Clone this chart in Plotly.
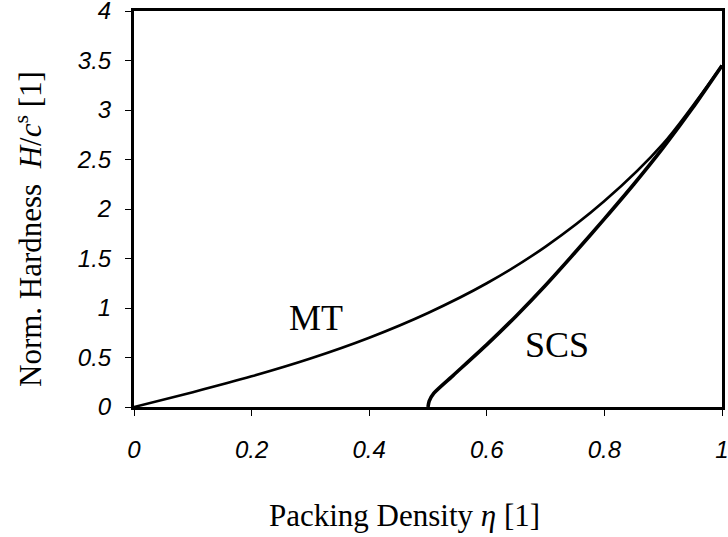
import plotly.graph_objects as go

# Normalised hardness H/c^s versus packing density eta for two models
mt_eta = [0.0, 0.1, 0.2, 0.3, 0.4, 0.5, 0.6, 0.7, 0.8, 0.9, 1.0]
mt_h = [0.0, 0.15, 0.31, 0.49, 0.70, 0.95, 1.25, 1.62, 2.08, 2.66, 3.45]

scs_eta = [0.5, 0.502, 0.51, 0.543, 0.6, 0.65, 0.7, 0.75, 0.8, 0.85, 0.9, 0.95, 1.0]
scs_h = [0.0, 0.06, 0.14, 0.32, 0.63, 0.92, 1.23, 1.56, 1.90, 2.25, 2.62, 3.02, 3.45]

x_ticks = [0, 0.2, 0.4, 0.6, 0.8, 1]
x_tick_text = ["0", "0.2", "0.4", "0.6", "0.8", "1"]
y_ticks = [0, 0.5, 1, 1.5, 2, 2.5, 3, 3.5, 4]
y_tick_text = ["0", "0.5", "1", "1.5", "2", "2.5", "3", "3.5", "4"]

serif = "Liberation Serif, Times New Roman, serif"
sans = "Liberation Sans, Arial, sans-serif"

fig = go.Figure()
fig.add_trace(go.Scatter(
    x=mt_eta, y=mt_h, mode="lines", name="MT",
    line=dict(color="black", width=2.6, shape="spline", smoothing=0.8),
))
fig.add_trace(go.Scatter(
    x=scs_eta, y=scs_h, mode="lines", name="SCS",
    line=dict(color="black", width=3.6, shape="spline", smoothing=0.6),
))

axis_common = dict(
    showline=True, linecolor="black", linewidth=3, mirror=True,
    ticks="outside", ticklen=6, tickwidth=1, tickcolor="black",
    showgrid=False, zeroline=False, ticklabeloverflow="allow",
    automargin=False,
    tickfont=dict(family=sans, size=24, color="black", style="italic"),
)

fig.update_xaxes(range=[0, 1], tickvals=x_ticks, ticktext=x_tick_text,
                 ticklabelstandoff=13, **axis_common)
fig.update_yaxes(range=[0, 4], tickvals=y_ticks, ticktext=y_tick_text,
                 ticklabelstandoff=9, **axis_common)

fig.add_annotation(x=0.31, y=0.90, xref="x", yref="y", text="MT", showarrow=False,
                   font=dict(family=serif, size=36, color="black"))
fig.add_annotation(x=0.72, y=0.63, xref="x", yref="y", text="SCS", showarrow=False,
                   font=dict(family=serif, size=36, color="black"))

# Axis titles, placed by pixel position on the page
W, H = 728, 537
L, R, T, B = 134, 6, 11, 130
pw, ph = W - L - R, H - T - B


def px_to_paper(px, py):
    return (px - L) / pw, (H - py - B) / ph


tx, ty = px_to_paper(404, 515)
fig.add_annotation(x=tx, y=ty, xref="paper", yref="paper",
                   xanchor="center", yanchor="middle",
                   text="Packing Density <i>η</i> [1]", showarrow=False,
                   font=dict(family=serif, size=31, color="black"))
tx, ty = px_to_paper(28, 229)
fig.add_annotation(x=tx, y=ty, xref="paper", yref="paper",
                   xanchor="center", yanchor="middle",
                   text="Norm. Hardness  <i>H</i>/<i>c</i><sup>s</sup> [1]", showarrow=False,
                   textangle=-90, font=dict(family=serif, size=31, color="black"))

fig.update_layout(
    width=W, height=H,
    margin=dict(l=L, r=R, t=T, b=B, autoexpand=False),
    paper_bgcolor="white", plot_bgcolor="white",
    showlegend=False,
)

fig.write_html("out.html")
